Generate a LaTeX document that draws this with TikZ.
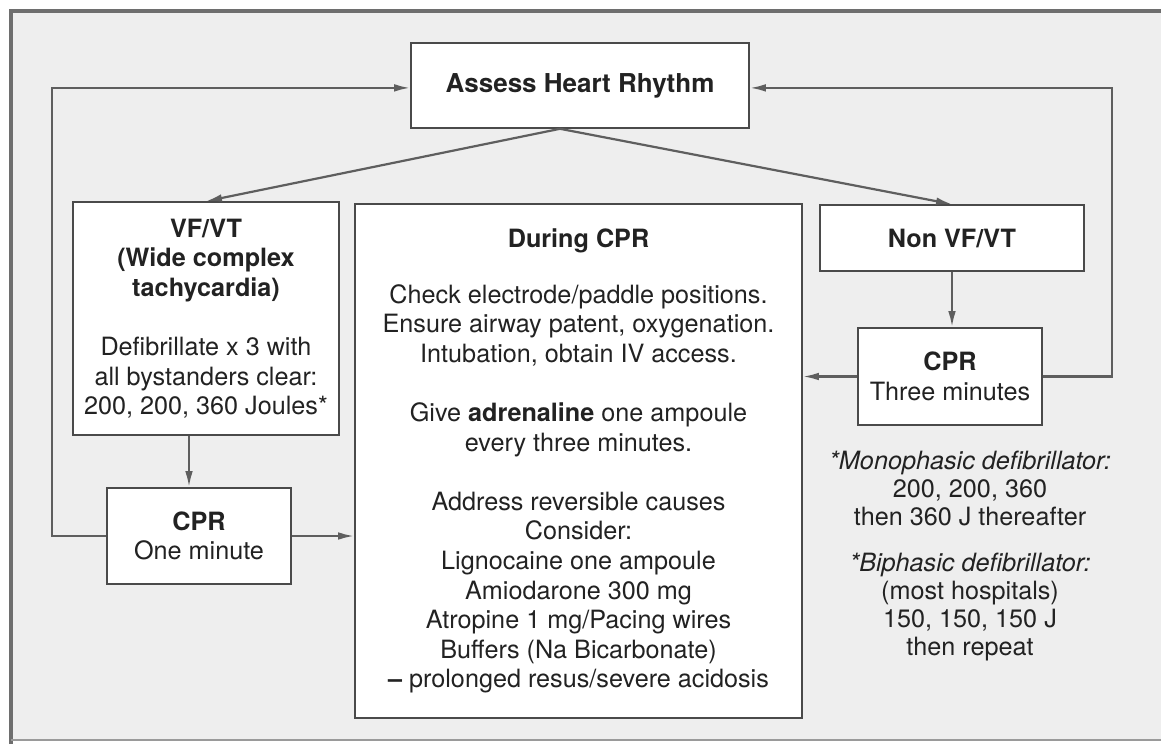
\documentclass[tikz,border=0pt]{standalone}
\usepackage{fontspec}
\setmainfont{TeX Gyre Heros}
\usetikzlibrary{arrows.meta,positioning,calc}
\definecolor{framegray}{HTML}{EEEEEE}
\definecolor{edgegray}{HTML}{6E6E6E}
\definecolor{linegray}{HTML}{5E5E5E}
\definecolor{boxline}{HTML}{4A4A4A}
\definecolor{inkgray}{HTML}{222222}

\begin{document}
\begin{tikzpicture}[x=0.5pt,y=-0.5pt,
  box/.style={draw=boxline,line width=0.8pt,fill=white,align=center,inner sep=0pt,
    text=inkgray,font=\fontsize{12.6}{14.8}\selectfont},
  flow/.style={draw=linegray,line width=1.1pt,-{Latex[length=8pt,width=3.8pt]}},
  note/.style={align=center,inner sep=0pt,text=inkgray,font=\fontsize{12.6}{14}\selectfont}]

  \useasboundingbox (0,0) rectangle (1161,744);

  % frame
  \fill[framegray] (10,10) rectangle (1161,740);
  \draw[edgegray,line width=2pt] (11,744) -- (11,11) -- (1161,11);
  \draw[edgegray!70,line width=1pt] (11,740) -- (1161,740);

  % boxes
  \node[box,minimum width=169pt,minimum height=42.5pt] (assess) at (580,85.5)
    {\fontsize{13}{15}\selectfont\textbf{Assess Heart Rhythm}};
  \node[box,minimum width=133pt,minimum height=116.5pt] (vfvt) at (206,318.5)
    {\textbf{VF/VT}\\ \textbf{(Wide complex}\\ \textbf{tachycardia)}\\[14.8pt]
     Defibrillate x 3 with\\ all bystanders clear:\\ 200, 200, 360 Joules*};
  \node[box,minimum width=223.5pt,minimum height=257pt] (during) at (578.5,461)
    {\textbf{During CPR}\\[13pt]
     Check electrode/paddle positions.\\
     Ensure airway patent, oxygenation.\\
     Intubation, obtain IV access.\\[14.8pt]
     Give \textbf{adrenaline} one ampoule\\
     every three minutes.\\[14.8pt]
     Address reversible causes\\
     Consider:\\
     Lignocaine one ampoule\\
     Amiodarone 300 mg\\
     Atropine 1 mg/Pacing wires\\
     Buffers (Na Bicarbonate)\\
     \textbf{--} prolonged resus/severe acidosis};
  \node[box,minimum width=132pt,minimum height=33pt] (nonvf) at (952,238)
    {\textbf{Non VF/VT}};
  \node[box,minimum width=92pt,minimum height=48.5pt] (cprthree) at (950,376.5)
    {\textbf{CPR}\\ Three minutes};
  \node[box,minimum width=92pt,minimum height=48pt] (cprone) at (199,536)
    {\textbf{CPR}\\ One minute};
  \node[note] (notes) at (970,556)
    {\textit{*Monophasic defibrillator:}\\ 200, 200, 360\\ then 360 J thereafter\\[9pt]
     \textit{*Biphasic defibrillator:}\\ (most hospitals)\\ 150, 150, 150 J\\ then repeat};

  \coordinate (leftrail) at (52,0);
  \coordinate (rightrail) at (1112,0);

  % connectors
  \draw[flow] ([xshift=-10pt]assess.south) -- (vfvt.north);
  \draw[flow] ([xshift=-10pt]assess.south) -- (nonvf.north);
  \draw[flow] ([xshift=-8.5pt]vfvt.south) -- ([xshift=-8.5pt]vfvt.south |- cprone.north);
  \draw[flow] (cprone.east) -- (cprone.east -| during.west);
  \draw[flow] (nonvf.south) -- (nonvf.south |- cprthree.north);
  \draw[flow] (cprthree.west) -- (cprthree.west -| during.east);
  \draw[flow] (cprone.west) -- (cprone.west -| leftrail) |- ([yshift=-1.2pt]assess.west);
  \draw[flow] (cprthree.east) -- (cprthree.east -| rightrail) |- ([yshift=-1.2pt]assess.east);

\end{tikzpicture}
\end{document}
